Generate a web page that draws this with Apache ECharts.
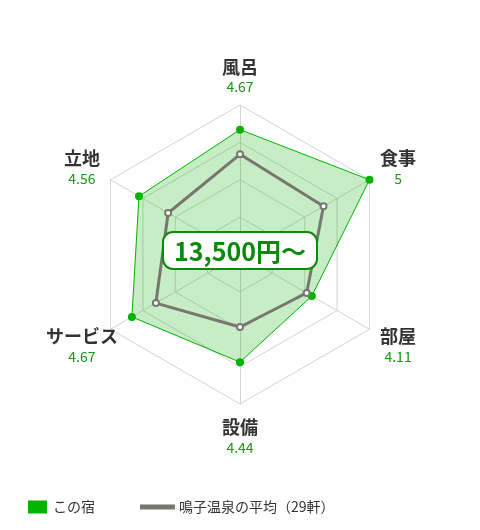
<!DOCTYPE html>
<html>
<head>
<meta charset="utf-8">
<script src="https://cdn.jsdelivr.net/npm/echarts@6/dist/echarts.min.js"></script>
<style>
  html, body { margin: 0; padding: 0; background: #fff; }
  #main { width: 480px; height: 530px; }
</style>
</head>
<body>
<div id="main"></div>
<script>
// 項目（反時計回り：上から）
var categories = ['風呂', '立地', 'サービス', '設備', '部屋', '食事'];
var hotelScores = [4.67, 4.56, 4.67, 4.44, 4.11, 5];
var areaAvg = [4.34, 4.11, 4.30, 3.97, 4.03, 4.29];
var upperItems = ['風呂', '立地', '食事'];
var scoreMin = 3;
var scoreMax = 5;
var priceLabel = '13,500円～';
var hotelName = 'この宿';
var avgName = '鳴子温泉の平均（29軒）';

var myChart = echarts.init(document.getElementById('main'));
var font = '"Noto Sans CJK JP", sans-serif';

var option = {
  backgroundColor: '#fff',
  textStyle: { fontFamily: font },
  title: {
    text: priceLabel,
    left: 'center',
    top: 232,
    padding: [7, 11, 5, 11],
    backgroundColor: '#fff',
    borderColor: '#0a8a0a',
    borderWidth: 2,
    borderRadius: 10,
    textStyle: { fontFamily: font, fontSize: 25, fontWeight: 'bold', color: '#0a8a0a' }
  },
  legend: [{
    data: [hotelName],
    left: 28, top: 500,
    padding: 0,
    itemGap: 6,
    icon: 'rect',
    itemWidth: 19, itemHeight: 13,
    textStyle: { fontFamily: font, fontSize: 14, color: '#333', padding: [0, 0, 0, 1] }
  }, {
    data: [avgName],
    left: 140, top: 500,
    padding: 0,
    icon: 'rect',
    itemWidth: 33, itemHeight: 3,
    textStyle: { fontFamily: font, fontSize: 14, color: '#333' }
  }],
  radar: {
    center: [240, 254.5],
    radius: 149.5,
    splitNumber: 4,
    shape: 'polygon',
    nameGap: 33,
    indicator: categories.map(function (c) { return { name: c, min: scoreMin, max: scoreMax }; }),
    axisName: {
      align: 'center',
      verticalAlign: 'middle',
      formatter: function (name) {
        var i = categories.indexOf(name);
        var txt = '{n|' + name + '}\n{v|' + hotelScores[i] + '}';
        // 上側の項目は少し下げる
        return upperItems.indexOf(name) >= 0 ? '{sp| }\n' + txt : txt;
      },
      rich: {
        sp: { fontSize: 1, lineHeight: 9 },
        n: { fontFamily: font, fontSize: 18, fontWeight: 'bold', color: '#333', lineHeight: 21, align: 'center' },
        v: { fontFamily: font, fontSize: 14, color: '#159a15', lineHeight: 19, align: 'center' }
      }
    },
    splitLine: { lineStyle: { color: '#d4d4d0', width: 1 } },
    axisLine: { lineStyle: { color: '#d4d4d0', width: 1 } },
    splitArea: { show: false }
  },
  series: [{
    name: hotelName,
    type: 'radar',
    z: 2,
    symbol: 'circle',
    symbolSize: 8,
    itemStyle: { color: '#00b400' },
    lineStyle: { color: '#00b400', width: 1 },
    areaStyle: { color: 'rgba(0,175,0,0.22)', opacity: 1 },
    data: [{ value: hotelScores, name: hotelName }]
  }, {
    name: avgName,
    type: 'radar',
    z: 3,
    symbol: 'emptyCircle',
    symbolSize: 6,
    itemStyle: { color: '#77776f', borderColor: '#77776f', borderWidth: 1.5 },
    lineStyle: { color: '#77776f', width: 3 },
    data: [{ value: areaAvg, name: avgName }]
  }]
};
myChart.setOption(option);
</script>
</body>
</html>
